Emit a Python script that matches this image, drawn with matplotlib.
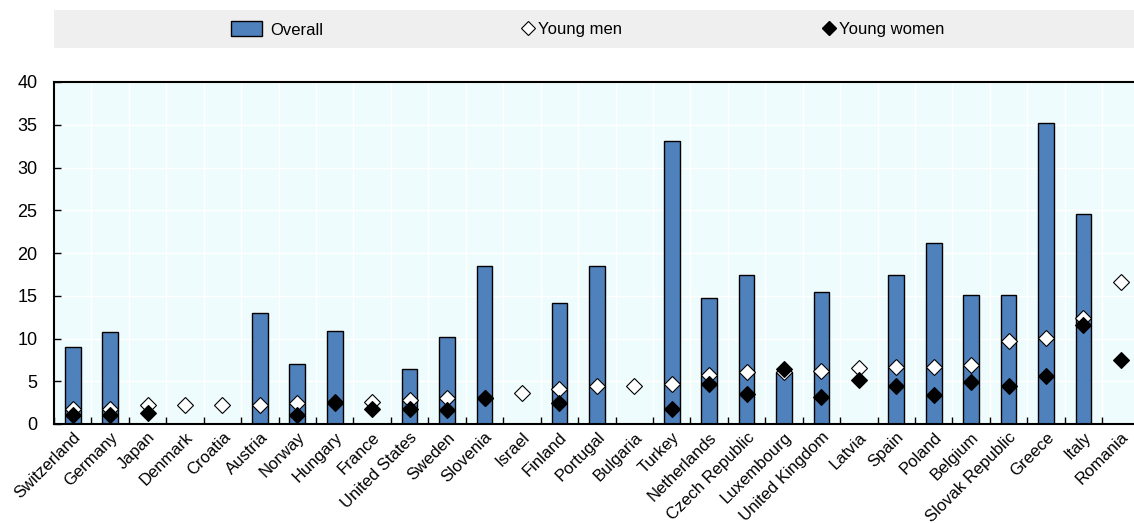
import numpy as np
import matplotlib
matplotlib.use("Agg")
import matplotlib.pyplot as plt
from matplotlib.patches import Rectangle, Patch
from matplotlib.lines import Line2D

plt.rcParams['font.family'] = ['Liberation Sans', 'DejaVu Sans']

countries = ["Switzerland", "Germany", "Japan", "Denmark", "Croatia", "Austria", "Norway",
             "Hungary", "France", "United States", "Sweden", "Slovenia", "Israel", "Finland",
             "Portugal", "Bulgaria", "Turkey", "Netherlands", "Czech Republic", "Luxembourg",
             "United Kingdom", "Latvia", "Spain", "Poland", "Belgium", "Slovak Republic",
             "Greece", "Italy", "Romania"]
nan = np.nan
overall = [9.0, 10.8, nan, nan, nan, 13.0, 7.0, 10.9, nan, 6.4, 10.2, 18.5, nan, 14.2,
           18.5, nan, 33.1, 14.7, 17.4, 6.1, 15.4, nan, 17.4, 21.2, 15.1, 15.1, 35.2, 24.6, nan]
young_men = [1.7, 1.7, 2.2, 2.2, 2.2, 2.2, 2.4, 2.4, 2.6, 2.8, 3.0, 3.0, 3.6, 4.1,
             4.4, 4.4, 4.7, 5.7, 6.05, 6.1, 6.2, 6.6, 6.7, 6.7, 6.9, 9.7, 10.1, 12.4, 16.6]
young_women = [1.1, 1.1, 1.3, nan, nan, nan, 1.1, 2.6, 1.7, 1.7, 1.6, 3.0, nan, 2.4,
               nan, nan, 1.8, 4.7, 3.5, 6.4, 3.1, 5.1, 4.4, 3.4, 4.9, 4.4, 5.6, 11.6, 7.5]

bar_color = '#4F81BD'
x = np.arange(len(countries))

fig = plt.figure(figsize=(11.34, 5.23), dpi=100)
ax = fig.add_axes([54/1134, 1 - 424/523, 1 - 54/1134, (424 - 82)/523])
ax.set_facecolor('#EFFCFD')

ax.bar(x, overall, width=0.42, color=bar_color, edgecolor='black', linewidth=1, zorder=2)
ax.plot(x, young_men, linestyle='none', marker='D', markersize=8.5, markerfacecolor='white',
        markeredgecolor='black', markeredgewidth=0.8, zorder=3)
ax.plot(x, young_women, linestyle='none', marker='D', markersize=8.5, markerfacecolor='black',
        markeredgecolor='black', markeredgewidth=0.8, zorder=4)

ax.set_xlim(-0.5, 28.35)
ax.set_ylim(0, 40)
ax.set_yticks(np.arange(0, 41, 5))
ax.set_xticks(x)
ax.set_xticklabels(countries, rotation=45, ha='right', va='top', rotation_mode='anchor',
                   fontsize=12)
ax.set_xticks(np.arange(-0.5, 28.5, 1), minor=True)
ax.tick_params(axis='x', which='major', length=0, pad=4)
ax.tick_params(axis='x', which='minor', direction='in', length=5, width=1)
ax.tick_params(axis='y', direction='in', length=5, width=1, labelsize=13, pad=12)

ax.grid(True, which='minor', axis='x', color='white', linewidth=1, zorder=0)
ax.grid(True, which='major', axis='y', color='white', linewidth=1, zorder=0)
ax.set_axisbelow(True)
for s in ['left', 'bottom', 'top']:
    ax.spines[s].set_linewidth(1.5)
ax.spines['right'].set_visible(False)

# legend band
fig.patches.append(Rectangle((54/1134, 1 - 48/523), 1 - 54/1134, 38/523,
                             transform=fig.transFigure, facecolor='#EFEFEF',
                             edgecolor='none', zorder=0))
ly = 1 - 29.5/523
h1 = Patch(facecolor=bar_color, edgecolor='black', linewidth=1)
h2 = Line2D([], [], linestyle='none', marker='D', markersize=7, markerfacecolor='white',
            markeredgecolor='black', markeredgewidth=0.8)
h3 = Line2D([], [], linestyle='none', marker='D', markersize=7, markerfacecolor='black',
            markeredgecolor='black')
leg1 = fig.legend([h1], ["Overall"], loc='center left', bbox_to_anchor=(231/1134, ly),
                  frameon=False, fontsize=12, handlelength=1.85, handleheight=1.0,
                  handletextpad=0.5, borderpad=0, borderaxespad=0)
leg2 = fig.legend([h2], ["Young men"], loc='center left', bbox_to_anchor=(522/1134, ly),
                  frameon=False, fontsize=12, handlelength=0.7, handletextpad=0.25,
                  borderpad=0, borderaxespad=0)
leg3 = fig.legend([h3], ["Young women"], loc='center left', bbox_to_anchor=(823/1134, ly),
                  frameon=False, fontsize=12, handlelength=0.7, handletextpad=0.25,
                  borderpad=0, borderaxespad=0)

fig.savefig('out.png', dpi=100)
